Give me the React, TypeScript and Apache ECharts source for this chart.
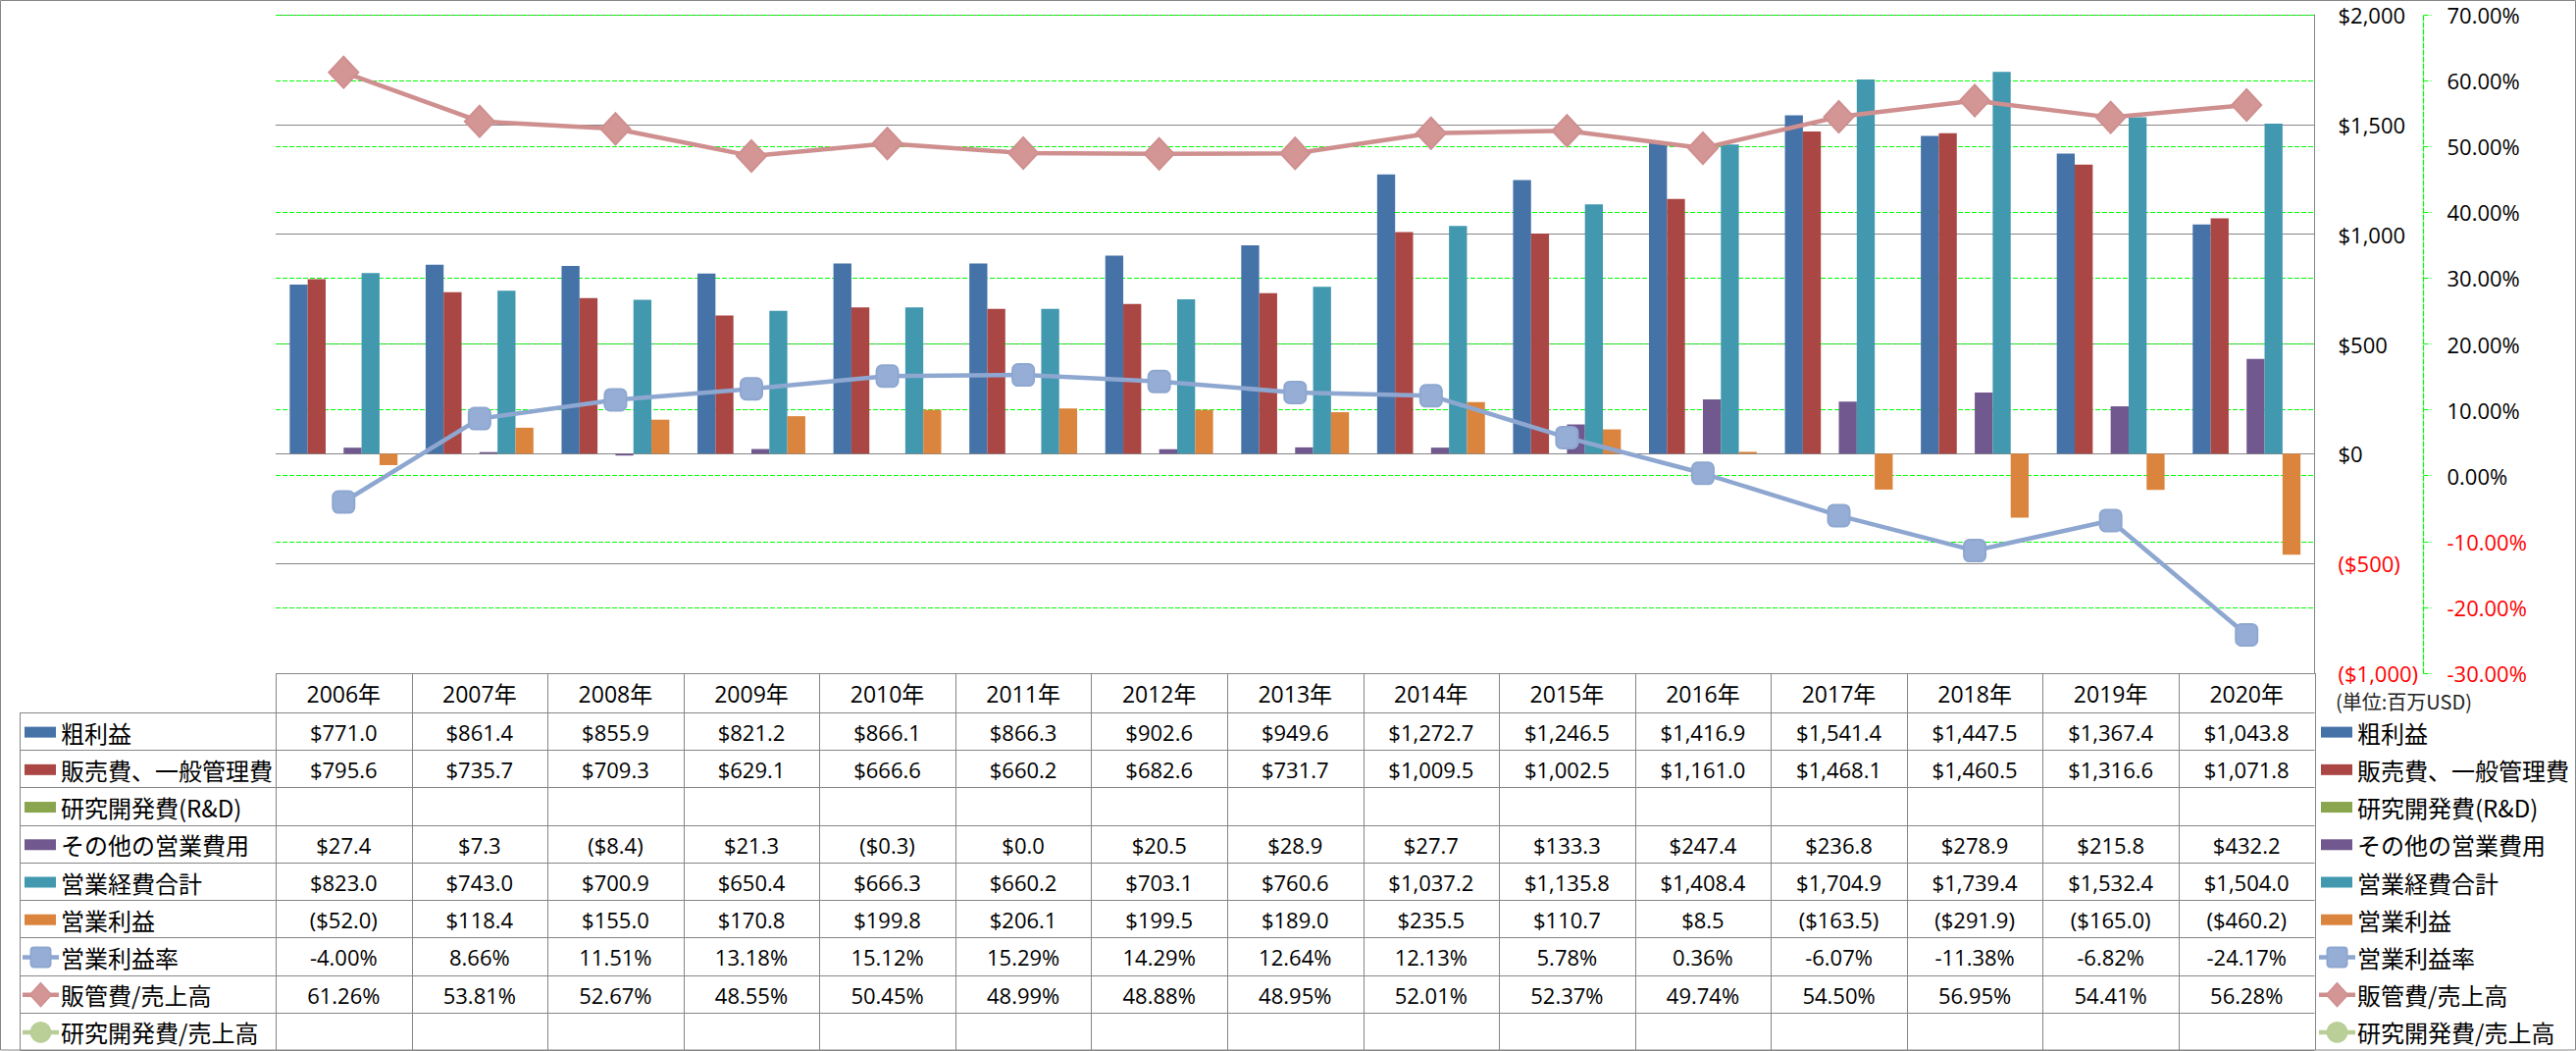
import React, { useEffect, useRef } from 'react';
import * as echarts from 'echarts';

// ---------- DATA ----------
const years = ['2006年', '2007年', '2008年', '2009年', '2010年', '2011年', '2012年', '2013年', '2014年', '2015年', '2016年', '2017年', '2018年', '2019年', '2020年'];
const grossProfit = [771.0, 861.4, 855.9, 821.2, 866.1, 866.3, 902.6, 949.6, 1272.7, 1246.5, 1416.9, 1541.4, 1447.5, 1367.4, 1043.8];
const sgaExpense = [795.6, 735.7, 709.3, 629.1, 666.6, 660.2, 682.6, 731.7, 1009.5, 1002.5, 1161.0, 1468.1, 1460.5, 1316.6, 1071.8];
const rndExpense: (number | null)[] = [null, null, null, null, null, null, null, null, null, null, null, null, null, null, null];
const otherOpex = [27.4, 7.3, -8.4, 21.3, -0.3, 0.0, 20.5, 28.9, 27.7, 133.3, 247.4, 236.8, 278.9, 215.8, 432.2];
const totalOpex = [823.0, 743.0, 700.9, 650.4, 666.3, 660.2, 703.1, 760.6, 1037.2, 1135.8, 1408.4, 1704.9, 1739.4, 1532.4, 1504.0];
const opIncome = [-52.0, 118.4, 155.0, 170.8, 199.8, 206.1, 199.5, 189.0, 235.5, 110.7, 8.5, -163.5, -291.9, -165.0, -460.2];
const opMargin = [-4.00, 8.66, 11.51, 13.18, 15.12, 15.29, 14.29, 12.64, 12.13, 5.78, 0.36, -6.07, -11.38, -6.82, -24.17];
const sgaRatio = [61.26, 53.81, 52.67, 48.55, 50.45, 48.99, 48.88, 48.95, 52.01, 52.37, 49.74, 54.50, 56.95, 54.41, 56.28];
const rndRatio: (number | null)[] = [null, null, null, null, null, null, null, null, null, null, null, null, null, null, null];

const seriesNames = ['粗利益', '販売費、一般管理費', '研究開発費(R&D)', 'その他の営業費用', '営業経費合計', '営業利益', '営業利益率', '販管費/売上高', '研究開発費/売上高'];
const moneyAxis = { min: -1000, max: 2000, interval: 500 };
const pctAxis = { min: -30, max: 70, interval: 10 };
const unitLabel = '(単位:百万USD)';

// ---------- STYLE / LAYOUT ----------
const W = 2626;
const H = 1071;
const GL = 281;
const GR = 2359.5;
const GT = 15;
const GH = 671;
const GB = GT + GH;
const HEADER_BOTTOM = 726;
const TABLE_BOTTOM = 1070;
const TABLE_LEFT = 20.5;
const GRAY = '#868686';
const GREEN = '#00FF00';
const DASH = [5, 2];
const colors = ['#4572A7', '#AA4643', '#89A54E', '#71588F', '#4198AF', '#DB843D', '#8EA7D0', '#CF8F8F', '#B9CD96'];
const markerFill = ['', '', '', '', '', '', '#96AED6', '#D39695', '#BACF98'];
const LATIN = '"Open Sans", "Noto Sans CJK JP", sans-serif';
const CJK = '"Noto Sans CJK JP", sans-serif';

const fmtMoney = (v: number) => {
  const s = Math.abs(v).toLocaleString('en-US', { minimumFractionDigits: 1, maximumFractionDigits: 1 });
  return v < 0 ? `($${s})` : `$${s}`;
};
const fmtPct = (v: number) => `${v.toFixed(2)}%`;

const tableRows: { values: (number | null)[]; fmt: (v: number) => string }[] = [
  { values: grossProfit, fmt: fmtMoney },
  { values: sgaExpense, fmt: fmtMoney },
  { values: rndExpense, fmt: fmtMoney },
  { values: otherOpex, fmt: fmtMoney },
  { values: totalOpex, fmt: fmtMoney },
  { values: opIncome, fmt: fmtMoney },
  { values: opMargin, fmt: fmtPct },
  { values: sgaRatio, fmt: fmtPct },
  { values: rndRatio, fmt: fmtPct },
];
const markerTypes = ['', '', '', '', '', '', 'square', 'diamond', 'circle'];

function buildGraphics() {
  const els: any[] = [];
  const n = years.length;
  const colW = (GR - GL) / n;
  const rowH = (TABLE_BOTTOM - HEADER_BOTTOM) / tableRows.length;
  const line = (x1: number, y1: number, x2: number, y2: number) =>
    els.push({ type: 'line', silent: true, z: 10, shape: { x1, y1, x2, y2 }, style: { stroke: GRAY, lineWidth: 1 } });
  const text = (t: string, x: number, y: number, align: string, size: number, family: string, fill = '#000') =>
    els.push({
      type: 'text', silent: true, z: 11, x, y,
      style: { text: t, fill, fontSize: size, fontFamily: family, align, verticalAlign: 'middle', textAlign: align, textVerticalAlign: 'middle' },
    });

  // outer frame
  els.push({ type: 'rect', silent: true, z: 10, shape: { x: 0.5, y: 0.5, width: W - 1, height: TABLE_BOTTOM - 0.5 }, style: { fill: 'none', stroke: GRAY, lineWidth: 1 } });

  // table grid
  line(GL, GB + 0.5, GR, GB + 0.5);
  for (let i = 0; i <= tableRows.length; i++) {
    const y = Math.round(HEADER_BOTTOM + i * rowH) + 0.5;
    line(TABLE_LEFT, y, GR, y);
  }
  line(TABLE_LEFT, HEADER_BOTTOM, TABLE_LEFT, TABLE_BOTTOM);
  for (let j = 0; j <= n; j++) {
    const x = Math.round(GL + j * colW) + 0.5;
    line(x, GB, x, TABLE_BOTTOM);
  }

  // header
  years.forEach((y, j) => text(y, GL + (j + 0.5) * colW, (GB + HEADER_BOTTOM) / 2 + 1, 'center', 23, LATIN));

  // rows
  const legendKey = (i: number, x0: number, cy: number) => {
    const c = colors[i];
    if (!markerTypes[i]) {
      els.push({ type: 'rect', silent: true, z: 11, shape: { x: x0 + 2, y: cy - 5.5, width: 32, height: 11 }, style: { fill: c } });
    } else {
      els.push({ type: 'line', silent: true, z: 11, shape: { x1: x0, y1: cy, x2: x0 + 37, y2: cy }, style: { stroke: c, lineWidth: 4.5 } });
      const mx = x0 + 18.5;
      const mf = markerFill[i];
      if (markerTypes[i] === 'square') {
        els.push({ type: 'rect', silent: true, z: 12, shape: { x: mx - 10, y: cy - 10, width: 20, height: 20, r: 3 }, style: { fill: mf, stroke: c, lineWidth: 2 } });
      } else if (markerTypes[i] === 'diamond') {
        els.push({ type: 'polygon', silent: true, z: 12, shape: { points: [[mx, cy - 12], [mx + 11, cy], [mx, cy + 12], [mx - 11, cy]] }, style: { fill: mf, stroke: c, lineWidth: 1.5 } });
      } else {
        els.push({ type: 'circle', silent: true, z: 12, shape: { cx: mx, cy, r: 10 }, style: { fill: mf, stroke: c, lineWidth: 1.5 } });
      }
    }
  };

  tableRows.forEach((row, i) => {
    const cy = HEADER_BOTTOM + (i + 0.5) * rowH + 1;
    legendKey(i, 23, cy);
    text(seriesNames[i], 62, cy, 'left', 24, CJK);
    row.values.forEach((v, j) => {
      if (v === null || v === undefined) return;
      text(row.fmt(v), GL + (j + 0.5) * colW, cy, 'center', 22, LATIN);
    });
    // right legend
    legendKey(i, 2364, cy);
    text(seriesNames[i], 2403, cy, 'left', 24, CJK);
  });

  text(unitLabel, 2381, 714, 'left', 20, CJK, '#222');
  return els;
}

export default function App() {
  const ref = useRef<HTMLDivElement>(null);
  useEffect(() => {
    if (!ref.current) return;
    const chart = echarts.init(ref.current, undefined, { renderer: 'svg' });
    const barSeries = [grossProfit, sgaExpense, rndExpense, otherOpex, totalOpex, opIncome].map((d, i) => ({
      name: seriesNames[i],
      type: 'bar',
      data: d,
      yAxisIndex: 0,
      barGap: '0%',
      barCategoryGap: '20.7%',
      itemStyle: { color: colors[i] },
    }));
    const lineDefs = [
      { d: opMargin, symbol: 'roundRect', size: 22 },
      { d: sgaRatio, symbol: 'diamond', size: [30, 32] },
      { d: rndRatio, symbol: 'circle', size: 20 },
    ];
    const lineSeries = lineDefs.map((l, k) => {
      const i = 6 + k;
      return {
        name: seriesNames[i],
        type: 'line',
        data: l.d,
        yAxisIndex: 1,
        symbol: l.symbol,
        symbolSize: l.size,
        showAllSymbol: true,
        lineStyle: { color: colors[i], width: 4.5 },
        itemStyle: { color: markerFill[i], borderColor: colors[i], borderWidth: 2 },
        z: 5,
      };
    });

    chart.setOption({
      animation: false,
      backgroundColor: '#ffffff',
      textStyle: { fontFamily: LATIN },
      grid: { left: GL, top: GT, width: GR - GL, height: GH, containLabel: false },
      xAxis: {
        type: 'category',
        data: years,
        axisLine: { show: false },
        axisTick: { show: false },
        axisLabel: { show: false },
        splitLine: { show: false },
      },
      yAxis: [
        {
          type: 'value',
          position: 'right',
          min: moneyAxis.min,
          max: moneyAxis.max,
          interval: moneyAxis.interval,
          axisLine: { show: true, lineStyle: { color: GRAY, width: 1 } },
          axisTick: { show: false },
          splitLine: { show: true, lineStyle: { color: GRAY, width: 1 } },
          axisLabel: {
            show: true,
            margin: 24,
            fontSize: 22,
            fontFamily: LATIN,
            showMinLabel: true,
            showMaxLabel: true,
            color: (v: any) => (Number(v) < 0 ? '#FF0000' : '#000000'),
            formatter: (v: number) => (v < 0 ? `($${Math.abs(v).toLocaleString('en-US')})` : `$${v.toLocaleString('en-US')}`),
          },
        },
        {
          type: 'value',
          position: 'right',
          offset: 111,
          min: pctAxis.min,
          max: pctAxis.max,
          interval: pctAxis.interval,
          axisLine: { show: true, lineStyle: { color: GREEN, width: 1.2, type: DASH } },
          axisTick: { show: true, inside: false, length: 8, lineStyle: { color: GREEN, width: 1.2, type: DASH } },
          splitLine: { show: true, lineStyle: { color: GREEN, width: 1.2, type: DASH } },
          axisLabel: {
            show: true,
            margin: 24,
            fontSize: 22,
            fontFamily: LATIN,
            showMinLabel: true,
            showMaxLabel: true,
            color: (v: any) => (Number(v) < 0 ? '#FF0000' : '#000000'),
            formatter: (v: number) => `${v.toFixed(2)}%`,
          },
        },
      ],
      series: [...barSeries, ...lineSeries],
      graphic: { elements: buildGraphics() },
    });
    return () => chart.dispose();
  }, []);

  return <div ref={ref} style={{ position: 'absolute', left: 0, top: 0, width: W, height: H, background: '#fff' }} />;
}
